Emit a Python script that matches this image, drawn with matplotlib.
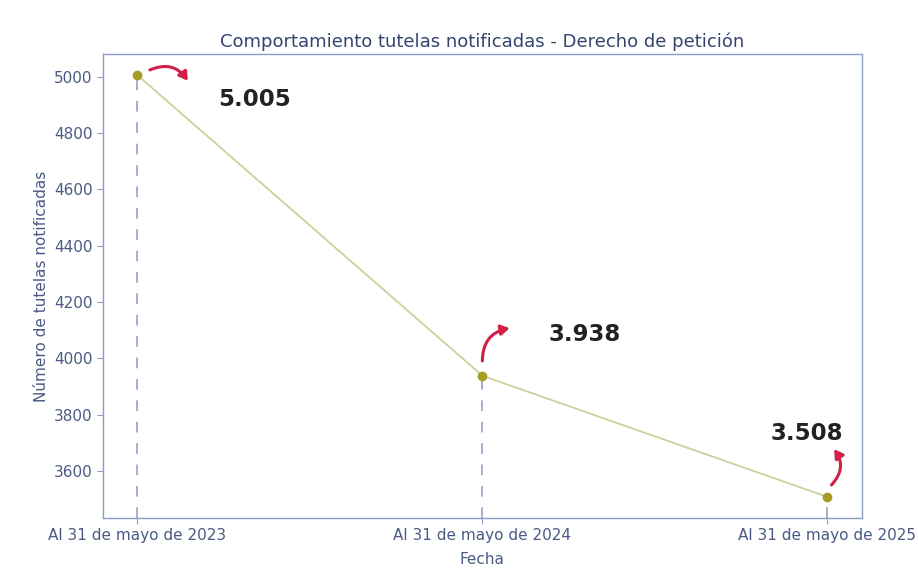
import matplotlib
matplotlib.use("Agg")
import matplotlib.pyplot as plt
from matplotlib.transforms import offset_copy

plt.rcParams["font.family"] = ["DejaVu Sans"]

# ─────────── Datos ───────────
fechas = ["Al 31 de mayo de 2023", "Al 31 de mayo de 2024", "Al 31 de mayo de 2025"]
tutelas = [5005, 3938, 3508]
etiquetas = ["5.005", "3.938", "3.508"]

# ─────────── Estilo ───────────
COLOR_TXT = "#4a5a85"
COLOR_EJE = "#8c9cc6"
COLOR_LINEA = "#cfcf9a"
COLOR_PUNTO = "#a89c22"
COLOR_FLECHA = "#d2204a"

fig = plt.figure(figsize=(9.18, 5.81), dpi=100)
ax = fig.add_axes([0.112, 0.1084, 0.827, 0.7986])

x = list(range(len(fechas)))
ax.plot(x, tutelas, color=COLOR_LINEA, lw=1.3, zorder=2)
ax.plot(x, tutelas, "o", color=COLOR_PUNTO, ms=6, zorder=3)

ax.set_xticks(x)
ax.set_xticklabels(fechas)
ax.set_yticks(range(3600, 5001, 200))

# líneas verticales punteadas hasta el eje
ymin = ax.get_ylim()[0]
ax.set_ylim(ymin, ax.get_ylim()[1])
for xi, yi in zip(x, tutelas):
    ax.vlines(xi, ymin, yi, colors="#8a9ac0", linestyles=(0, (7, 7)), lw=1.1, zorder=1)

# etiquetas de valor (desplazamiento en píxeles)
desp_txt = [(117, -24), (102, 41), (-21, 63)]
for xi, yi, lab, (dx, dy) in zip(x, tutelas, etiquetas, desp_txt):
    tr = offset_copy(ax.transData, fig=fig, x=dx, y=dy, units="dots")
    ax.text(xi, yi, lab, transform=tr, ha="center", va="center",
            fontsize=16.5, fontweight="bold", color="#222222")

# flechas curvas rojas
flechas = [((10, 4), (52, -8), -0.45), ((0, 12), (30, 48), -0.45), ((2, 10), (5, 50), 0.45)]
for xi, yi, (ini, fin, rad) in zip(x, tutelas, flechas):
    t_ini = offset_copy(ax.transData, fig=fig, x=ini[0], y=ini[1], units="dots")
    t_fin = offset_copy(ax.transData, fig=fig, x=fin[0], y=fin[1], units="dots")
    ax.annotate("", xy=(xi, yi), xycoords=t_fin, xytext=(xi, yi), textcoords=t_ini,
                arrowprops=dict(arrowstyle="-|>,head_length=0.5,head_width=0.3",
                                color=COLOR_FLECHA, lw=2.2,
                                connectionstyle=f"arc3,rad={rad}"))

for s in ax.spines.values():
    s.set_color(COLOR_EJE)
    s.set_linewidth(1.0)
ax.tick_params(colors=COLOR_EJE, labelcolor=COLOR_TXT, labelsize=11, length=4)

ax.set_title("Comportamiento tutelas notificadas - Derecho de petición",
             color="#34446f", fontsize=13, pad=5)
ax.set_xlabel("Fecha", color=COLOR_TXT, fontsize=11, labelpad=6)
ax.set_ylabel("Número de tutelas notificadas", color=COLOR_TXT, fontsize=11, labelpad=3)

fig.savefig("out.png", dpi=100)
